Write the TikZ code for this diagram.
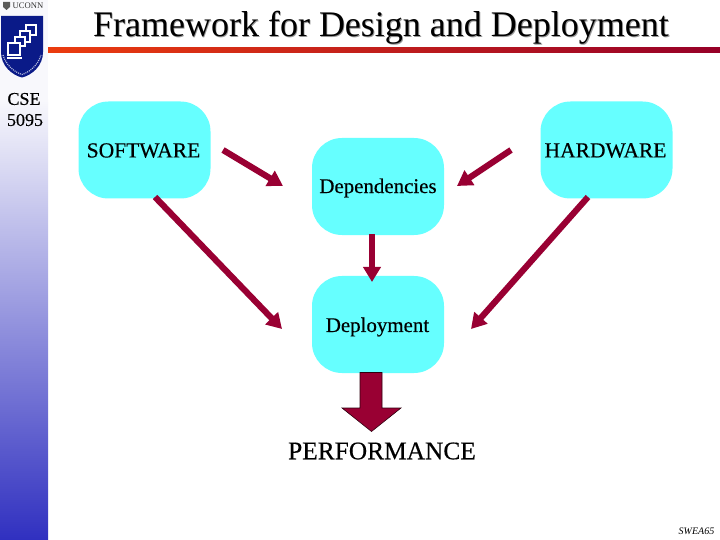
\documentclass[tikz,border=0pt]{standalone}
\usepackage{fontspec}
\setmainfont{Liberation Serif}
\newfontfamily\heavy[FakeBold=0.35]{Liberation Serif}
\usetikzlibrary{arrows.meta}
\definecolor{boxcyan}{HTML}{66FFFF}
\definecolor{arrowred}{HTML}{990033}
\definecolor{shieldblue}{HTML}{0A1A88}
\definecolor{sidetop}{HTML}{F8F8FC}
\definecolor{sidebot}{HTML}{3030C0}
\tikzset{
  stage/.style={fill=boxcyan,draw=none,rounded corners=30bp,minimum width=132bp,minimum height=97bp,inner sep=0pt},
  lbl/.style={font=\heavy\fontsize{20.9bp}{24bp}\selectfont,text=black,inner sep=0pt},
  caplbl/.style={font=\heavy\fontsize{21.5bp}{24bp}\selectfont,text=black,inner sep=0pt},
  side/.style={font=\heavy\fontsize{18bp}{20bp}\selectfont,inner sep=0pt},
  conn/.style={draw=arrowred,line width=6.2bp,-{Triangle[length=15bp,width=17bp,fill=arrowred]},shorten >=0pt},
  pc/.style={draw=white,line width=1.1bp,fill=shieldblue}
}
\begin{document}
\begin{tikzpicture}[x=1bp,y=-1bp]
\useasboundingbox (0,0) rectangle (720,540);
\fill[white] (0,0) rectangle (720,540);
% sidebar
\fill[sidetop] (0,0) rectangle (48,100);
\shade[top color=sidetop,bottom color=sidebot] (0,100) rectangle (48,540);
% title rule
\shade[left color={rgb,255:red,235;green,60;blue,15},right color={rgb,255:red,150;green,0;blue,40}] (48,48) rectangle (720,53);
% logo
\node[font=\fontsize{8.6bp}{12bp}\selectfont,text=black!80,inner sep=0pt,anchor=west] (uconn) at (12.5,6) {UCONN};
\fill[black!65] (3,2) -- (10,2) -- (10,7) -- (6.5,10) -- (3,7) -- cycle;
\fill[shieldblue] (1,16) -- (43,16) -- (43,52) .. controls (43,66) and (32,75) .. (22,77.5) .. controls (12,75) and (1,66) .. (1,52) -- cycle;
\foreach \px/\py/\pw/\ph in {26/25/10/10,20/31/10/11,15/37/10/9,8/43/12/12}{
  \draw[pc] (\px,\py) rectangle ++(\pw,\ph);
}
\fill[white] (7,57) rectangle (22,59);
\draw[white!75!shieldblue,line width=1.2bp,dash pattern=on 1bp off 1bp] (3,55) .. controls (6,65) and (14,72) .. (22,74.5) .. controls (30,72) and (38,65) .. (41,55);
\node[side] (cse) at (24,99) {CSE};
\node[side] (num) at (25,120) {5095};
% title
\node[font=\fontsize{36bp}{40bp}\selectfont,text=black!40,inner sep=0pt] (titleshadow) at (381.8,28.3) {Framework for Design and Deployment};
\node[font=\fontsize{36bp}{40bp}\selectfont,text=black,inner sep=0pt] (title) at (381,27.5) {Framework for Design and Deployment};
% boxes
\node[stage] (sw) at (144.5,150) {};
\node[stage] (hw) at (606.5,150) {};
\node[stage] (dep) at (378,186.5) {};
\node[stage] (dpl) at (378,324.5) {};
\node[caplbl] (swl) at (143.5,150.5) {SOFTWARE};
\node[caplbl] (hwl) at (605.5,150.5) {HARDWARE};
\node[lbl] (depl) at (378,188) {Dependencies};
\node[lbl] (dpll) at (377.5,327) {Deployment};
\node[font=\heavy\fontsize{25.4bp}{28bp}\selectfont,inner sep=0pt] (perf) at (382,451) {PERFORMANCE};
\node[font=\itshape\fontsize{10bp}{12bp}\selectfont,inner sep=0pt] (id) at (696.5,531) {SWEA65};
% connectors
\coordinate (a1s) at (223,150); \coordinate (a1e) at (283,186);
\coordinate (a2s) at (511,150); \coordinate (a2e) at (457,186);
\coordinate (a3s) at (372,234); \coordinate (a3e) at (372,282);
\coordinate (a4s) at (155,197); \coordinate (a4e) at (282,329);
\coordinate (a5s) at (588,197); \coordinate (a5e) at (471,329);
\draw[conn] (a1s) -- (a1e);
\draw[conn] (a2s) -- (a2e);
\draw[conn] (a3s) -- (a3e);
\draw[conn] (a4s) -- (a4e);
\draw[conn] (a5s) -- (a5e);
% big arrow
\draw[fill=arrowred,draw=black!70!arrowred,line width=.6bp] (360,372.5) -- (382,372.5) -- (382,408) -- (401,408) -- (371.5,431.5) -- (342,408) -- (360,408) -- cycle;
\end{tikzpicture}
\end{document}
